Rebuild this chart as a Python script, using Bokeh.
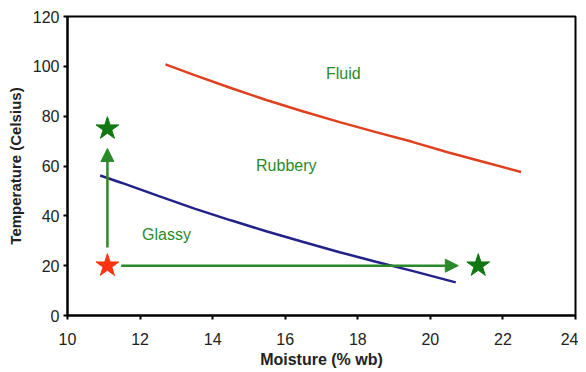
from bokeh.plotting import figure
from bokeh.models import Arrow, NormalHead, ColumnDataSource, Range1d, FixedTicker
from bokeh.core.properties import value
from bokeh.embed import file_html
from bokeh.resources import INLINE

# Data
fluid_x = [12.7, 13.5, 14.5, 15.5, 16.5, 17.5, 18.5, 19.5, 20.5, 21.5, 22.5]
fluid_y = [100.8, 96.5, 91.3, 86.4, 81.9, 77.6, 73.6, 69.7, 65.4, 61.5, 57.6]
glass_x = [10.9, 11.5, 12.5, 13.5, 14.5, 15.5, 16.5, 17.5, 18.5, 19.5, 20.7]
glass_y = [56.2, 53.2, 48.0, 42.9, 38.2, 33.7, 29.5, 25.4, 21.6, 17.9, 13.3]

start_x, start_y = [11.1], [20]
end_stars_x = [11.1, 21.32]
end_stars_y = [75, 20]

arrow_x0 = [11.1, 11.48]
arrow_y0 = [27.3, 20]
arrow_x1 = [11.1, 20.77]
arrow_y1 = [67.0, 20]

labels = ["Fluid", "Rubbery", "Glassy"]
label_x = [17.6, 16.03, 12.73]
label_y = [97, 60.3, 32.5]

x_ticks = [10, 12, 14, 16, 18, 20, 22, 24]
y_ticks = [0, 20, 40, 60, 80, 100, 120]

FONT = "Liberation Sans"
GREEN = "#2a8a2a"

p = figure(width=578, height=370, output_backend="svg", toolbar_location=None,
           x_range=Range1d(10, 24), y_range=Range1d(0, 120),
           min_border_left=67, min_border_right=3, min_border_top=16, min_border_bottom=52)
p.grid.visible = False
p.outline_line_color = "black"
p.outline_line_width = 2
p.background_fill_color = "white"
p.border_fill_color = "white"

for ax in (p.xaxis, p.yaxis):
    ax.axis_line_width = 2
    ax.axis_line_color = "black"
    ax.major_tick_line_width = 2
    ax.major_tick_out = 4
    ax.major_tick_in = 0
    ax.minor_tick_line_color = None
    ax.major_label_text_font = FONT
    ax.major_label_text_font_size = "16px"
    ax.major_label_text_color = "#222222"
    ax.axis_label_text_font = FONT
    ax.axis_label_text_font_style = "bold"
    ax.axis_label_text_color = "#222222"

p.xaxis.ticker = FixedTicker(ticks=x_ticks)
p.yaxis.ticker = FixedTicker(ticks=y_ticks)
p.xaxis.axis_label = "Moisture (% wb)"
p.yaxis.axis_label = "Temperature (Celsius)"
p.xaxis.axis_label_text_font_size = "16px"
p.yaxis.axis_label_text_font_size = "15px"
p.xaxis.axis_label_standoff = 3
p.yaxis.axis_label_standoff = 6
p.xaxis.major_label_standoff = 13
p.yaxis.major_label_standoff = 4

p.line(fluid_x, fluid_y, line_color="#e0401e", line_width=2.5)
p.line(glass_x, glass_y, line_color="#22228a", line_width=2.5)

arr_src = ColumnDataSource(dict(x0=arrow_x0, y0=arrow_y0, x1=arrow_x1, y1=arrow_y1))
p.add_layout(Arrow(end=NormalHead(size=13, fill_color=GREEN, line_color=GREEN),
                   x_start="x0", y_start="y0", x_end="x1", y_end="y1",
                   source=arr_src, line_color=GREEN, line_width=2.5))

p.scatter(end_stars_x, end_stars_y, marker="star", size=24, fill_color="#117711",
          line_color="#117711")
p.scatter(start_x, start_y, marker="star", size=24, fill_color="#ff3311",
          line_color="#ff3311")

p.text(label_x, label_y, text=labels, text_font=value(FONT), text_font_size="16px",
       text_color=GREEN, text_align="center", text_baseline="middle")

open("out.html", "w").write(file_html(p, INLINE))
